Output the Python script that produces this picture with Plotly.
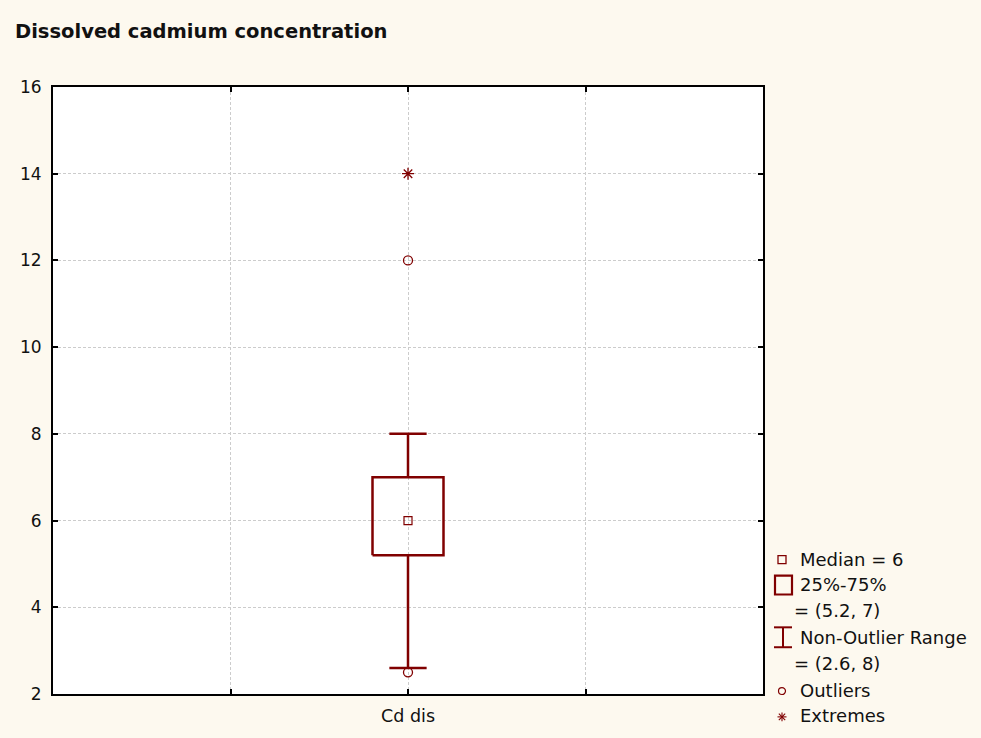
import plotly.graph_objects as go

# ---- data ----
categories = ["Cd dis"]
medians = [6]
q1_values = [5.2]
q3_values = [7]
nonoutlier_min = [2.6]
nonoutlier_max = [8]
outlier_values = [12, 2.5]
extreme_values = [14]
y_ticks = [2, 4, 6, 8, 10, 12, 14, 16]

# ---- style ----
RED = "#800000"
BG = "#FDF9EF"
FONT = "DejaVu Sans"
W, H = 981, 738
L, R, T, B = 53, 218, 87, 41
PW, PH = W - L - R, H - T - B

BOX_HALF = 0.2
CAP_HALF = 0.105

fig = go.Figure()

for i, cat in enumerate(categories):
    xc = i + 2
    # box
    fig.add_trace(go.Scatter(
        x=[xc - BOX_HALF, xc + BOX_HALF, xc + BOX_HALF, xc - BOX_HALF, xc - BOX_HALF],
        y=[q1_values[i], q1_values[i], q3_values[i], q3_values[i], q1_values[i]],
        mode="lines", line=dict(color=RED, width=2.5), hoverinfo="skip", showlegend=False))
    # whiskers
    fig.add_trace(go.Scatter(
        x=[xc, xc, None, xc, xc, None,
           xc - CAP_HALF, xc + CAP_HALF, None, xc - CAP_HALF, xc + CAP_HALF],
        y=[q3_values[i], nonoutlier_max[i], None, q1_values[i], nonoutlier_min[i], None,
           nonoutlier_max[i], nonoutlier_max[i], None, nonoutlier_min[i], nonoutlier_min[i]],
        mode="lines", line=dict(color=RED, width=2.5), hoverinfo="skip", showlegend=False))
    # median
    fig.add_trace(go.Scatter(
        x=[xc], y=[medians[i]], mode="markers",
        marker=dict(symbol="square-open", size=8, color=RED, line=dict(width=1.2, color=RED)),
        showlegend=False))
    # outliers
    fig.add_trace(go.Scatter(
        x=[xc] * len(outlier_values), y=outlier_values, mode="markers",
        marker=dict(symbol="circle-open", size=9, color=RED, line=dict(width=1.3, color=RED)),
        showlegend=False))
    # extremes
    fig.add_trace(go.Scatter(
        x=[xc] * len(extreme_values), y=extreme_values, mode="markers",
        marker=dict(symbol="asterisk-open", size=10, color=RED, line=dict(width=1.3, color=RED)),
        showlegend=False))

fig.update_layout(
    width=W, height=H,
    margin=dict(l=L, r=R, t=T, b=B, pad=0),
    paper_bgcolor=BG, plot_bgcolor="white",
    font=dict(family=FONT, size=17, color="#111111"),
    title=dict(text="<b>Dissolved cadmium concentration</b>",
               x=15 / W, xref="container", xanchor="left",
               y=1 - 31 / H, yref="container", yanchor="middle",
               font=dict(family=FONT, size=19.5, color="#111111")),
    showlegend=False,
)

GRID = "#CCCCCC"
fig.update_xaxes(
    range=[0, 4], tickmode="array", tickvals=[1, 2, 3],
    ticktext=["", categories[0], ""],
    showgrid=True, gridcolor=GRID, griddash="3px,2px", gridwidth=1,
    showline=True, linecolor="black", linewidth=2, mirror="ticks",
    ticks="inside", ticklen=5, tickwidth=2, tickcolor="black",
    zeroline=False, tickfont=dict(size=17.5), ticklabelstandoff=5, fixedrange=True,
)
fig.update_yaxes(
    range=[2, 16], tickmode="array", tickvals=y_ticks,
    showgrid=True, gridcolor=GRID, griddash="3px,2px", gridwidth=1,
    showline=True, linecolor="black", linewidth=2, mirror="ticks",
    ticks="inside", ticklen=5, tickwidth=2, tickcolor="black",
    zeroline=False, tickfont=dict(size=17), ticklabelstandoff=6, fixedrange=True,
)

# ---- custom legend (pixel positions converted to paper coords) ----
def px(x):
    return (x - L) / PW

def py(y):
    return (H - B - y) / PH

shapes = []
# median small square
shapes.append(dict(type="rect", xref="paper", yref="paper",
                   x0=px(778), x1=px(786), y0=py(558), y1=py(566),
                   line=dict(color=RED, width=1.3)))
# box square
shapes.append(dict(type="rect", xref="paper", yref="paper",
                   x0=px(775), x1=px(792), y0=py(578), y1=py(597),
                   line=dict(color=RED, width=2.2)))
# I-beam
for (x0, y0, x1, y1) in [(774, 630, 792, 630), (774, 650, 792, 650), (783, 630, 783, 650)]:
    shapes.append(dict(type="line", xref="paper", yref="paper",
                       x0=px(x0), x1=px(x1), y0=py(y0), y1=py(y1),
                       line=dict(color=RED, width=2)))
# outlier circle
shapes.append(dict(type="circle", xref="paper", yref="paper",
                   x0=px(778.5), x1=px(785.5), y0=py(690.5), y1=py(697.5),
                   line=dict(color=RED, width=1.2)))
# extreme asterisk
cx, cy, r = 782, 720, 4.5
for (dx, dy) in [(0, 1), (1, 0), (0.707, 0.707), (0.707, -0.707)]:
    shapes.append(dict(type="line", xref="paper", yref="paper",
                       x0=px(cx - r * dx), x1=px(cx + r * dx),
                       y0=py(cy - r * dy), y1=py(cy + r * dy),
                       line=dict(color=RED, width=1.1)))
fig.update_layout(shapes=shapes)

legend_texts = [
    ("Median = 6", 798, 562),
    ("25%-75%", 798, 587),
    ("= (5.2, 7)", 792, 613),
    ("Non-Outlier Range", 798, 640),
    ("= (2.6, 8)", 792, 666),
    ("Outliers", 798, 693),
    ("Extremes", 798, 719),
]
for txt, x, y in legend_texts:
    fig.add_annotation(text=txt, xref="paper", yref="paper", x=px(x), y=py(y),
                       xanchor="left", yanchor="middle", showarrow=False,
                       font=dict(family=FONT, size=18, color="#111111"))

fig.write_html("out.html",
               config={"displayModeBar": False, "staticPlot": True},
               post_script="document.body.style.margin='0';document.body.style.overflow='hidden';")
